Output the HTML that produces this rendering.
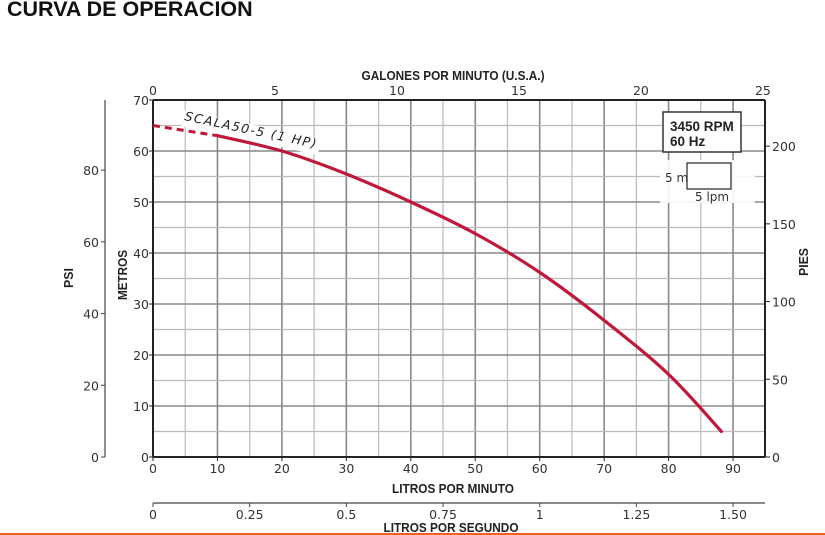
<!DOCTYPE html>
<html><head><meta charset="utf-8">
<style>
html,body{margin:0;padding:0;background:#fff;}
body{width:825px;height:535px;overflow:hidden;position:relative;font-family:"Liberation Sans",sans-serif;}
#title{position:absolute;left:7px;top:-3px;font-weight:bold;font-size:21.5px;color:#111;}
svg text{font-family:"DejaVu Sans","Liberation Sans",sans-serif;}
svg text.bt{font-family:"Liberation Sans",sans-serif;font-weight:bold;}
</style></head>
<body>
<div id="title">CURVA DE OPERACION</div>
<svg id="chart" width="825" height="535" style="position:absolute;left:0;top:0"></svg>
<script>
const lpmTicks=[0,10,20,30,40,50,60,70,80,90];
const meterTicks=[0,10,20,30,40,50,60,70];
const gpmTicks=[0,5,10,15,20,25];
const psiTicks=[0,20,40,60,80];
const feetTicks=[0,50,100,150,200];
const lpsTicks=[0,0.25,0.5,0.75,1,1.25,1.5];
const lpsLabels=["0","0.25","0.5","0.75","1","1.25","1.50"];
const dashedLpm=[0,10];
const dashedM=[65,63];
const curveLpm=[10,20,30,40,50,60,70,80,88.2];
const curveM=[63,60,55.5,50,43.8,36.2,26.8,16.2,5];

const X0=153,PX=6.445,Y0=457,PY=5.1;
const xL=v=>X0+v*PX;
const yM=v=>Y0-v*PY;
const xG=v=>xL(v*3.78541);
const yP=v=>yM(v*0.70307);
const yF=v=>yM(v*0.3048);
const xS=v=>xL(v*60);
const svg=document.getElementById('chart');
const NS='http://www.w3.org/2000/svg';
function mk(t,a,txt){const e=document.createElementNS(NS,t);for(const k in a)e.setAttribute(k,a[k]);if(txt!==undefined)e.textContent=txt;svg.appendChild(e);return e;}
const RIGHTX=765,TOPY=100;
for(let v=5;v<95;v+=5){const e=mk('line',{x1:xL(v),x2:xL(v),y1:TOPY,y2:Y0,stroke:v%10?'#bbb':'#888','stroke-width':v%10?1.2:1.6});

}
for(let v=5;v<70;v+=5){const e=mk('line',{x1:X0,x2:RIGHTX,y1:yM(v),y2:yM(v),stroke:v%10?'#bbb':'#888','stroke-width':v%10?1.2:1.6});

}
let f=mk('line',{x1:X0,x2:RIGHTX,y1:TOPY,y2:TOPY,stroke:'#222','stroke-width':2});


f=mk('line',{x1:X0,x2:RIGHTX,y1:Y0,y2:Y0,stroke:'#222','stroke-width':2});


f=mk('line',{x1:X0,x2:X0,y1:TOPY,y2:Y0,stroke:'#222','stroke-width':2});


f=mk('line',{x1:RIGHTX,x2:RIGHTX,y1:TOPY,y2:Y0,stroke:'#222','stroke-width':2});


const tc='#333',fs=12.5;
lpmTicks.forEach(v=>{const t=mk('text',{x:xL(v),y:Y0+16,'text-anchor':'middle','font-size':fs,fill:tc},v);


mk('line',{x1:xL(v),x2:xL(v),y1:Y0,y2:Y0+4,stroke:'#222'});});
meterTicks.forEach(v=>{const t=mk('text',{x:X0-4,y:yM(v)+5,'text-anchor':'end','font-size':fs,fill:tc},v);


mk('line',{x1:X0-4,x2:X0,y1:yM(v),y2:yM(v),stroke:'#222'});});
gpmTicks.forEach(v=>{const t=mk('text',{x:xG(v),y:TOPY-5,'text-anchor':'middle','font-size':fs,fill:tc},v);

});
f=mk('line',{x1:105,x2:105,y1:100,y2:Y0,stroke:'#444','stroke-width':1.2});


psiTicks.forEach(v=>{const t=mk('text',{x:99,y:yP(v)+5,'text-anchor':'end','font-size':fs,fill:tc},v);


mk('line',{x1:101,x2:105,y1:yP(v),y2:yP(v),stroke:'#444'});});
feetTicks.forEach(v=>{const t=mk('text',{x:RIGHTX+7,y:yF(v)+5,'font-size':fs,fill:tc},v);


mk('line',{x1:RIGHTX,x2:RIGHTX+5,y1:yF(v),y2:yF(v),stroke:'#222'});});
f=mk('line',{x1:X0,x2:RIGHTX,y1:503,y2:503,stroke:'#444','stroke-width':1.2});


lpsTicks.forEach((v,i)=>{const t=mk('text',{x:xS(v),y:519,'text-anchor':'middle','font-size':fs,fill:tc},lpsLabels[i]);


mk('line',{x1:xS(v),x2:xS(v),y1:503,y2:507,stroke:'#444'});});
const bt={'class':'bt','font-size':13,fill:'#222','text-anchor':'middle',lengthAdjust:'spacingAndGlyphs'};
let t=mk('text',Object.assign({x:453,y:80,textLength:183},bt),'GALONES POR MINUTO (U.S.A.)');


t=mk('text',Object.assign({x:453,y:493,textLength:122},bt),'LITROS POR MINUTO');


t=mk('text',Object.assign({x:451,y:532,textLength:135},bt),'LITROS POR SEGUNDO');


t=mk('text',Object.assign({x:0,y:0,textLength:20,transform:'translate(73,278) rotate(-90)'},bt),'PSI');


t=mk('text',Object.assign({x:0,y:0,textLength:50,transform:'translate(127,275) rotate(-90)'},bt),'METROS');


t=mk('text',Object.assign({x:0,y:0,textLength:28,transform:'translate(808,262) rotate(-90)'},bt),'PIES');


let r=mk('rect',{x:663,y:112,width:78,height:40,fill:'#fff',stroke:'#333','stroke-width':1.5});


t=mk('text',{x:670,y:131,'class':'bt','font-size':13.5,fill:'#222'},'3450 RPM');


t=mk('text',{x:670,y:146,'class':'bt','font-size':13.5,fill:'#222'},'60 Hz');


mk('rect',{x:660,y:160,width:95,height:43,fill:'#fff','fill-opacity':0.9});
r=mk('rect',{x:687,y:163,width:44,height:26,fill:'#fff',stroke:'#333','stroke-width':1.3});


t=mk('text',{x:665,y:182,'font-size':12,fill:'#333'},'5 m');


t=mk('text',{x:695,y:201,'font-size':12,fill:'#333'},'5 lpm');


mk('rect',{x:0,y:-11,width:140,height:16,fill:'#fff',transform:'translate(182,121) rotate(12)'});
t=mk('text',{x:0,y:0,'font-size':12.5,fill:'#222','font-style':'italic','letter-spacing':'1.5',transform:'translate(184,120) rotate(12)'},'SCALA50-5 (1 HP)');


let p=mk('path',{d:'M'+dashedLpm.map((v,i)=>xL(v)+','+yM(dashedM[i])).join(' L'),fill:'none',stroke:'#c0183a','stroke-width':3,'stroke-dasharray':'7,5'});


let pts=curveLpm.map((v,i)=>[xL(v),yM(curveM[i])]);
let d='M'+pts[0].join(',');
for(let i=0;i<pts.length-1;i++){const p0=pts[i-1]||pts[i],p1=pts[i],p2=pts[i+1],p3=pts[i+2]||p2;
d+=` C${p1[0]+(p2[0]-p0[0])/6},${p1[1]+(p2[1]-p0[1])/6} ${p2[0]-(p3[0]-p1[0])/6},${p2[1]-(p3[1]-p1[1])/6} ${p2[0]},${p2[1]}`;}
p=mk('path',{d:d,fill:'none',stroke:'#c0183a','stroke-width':3.2,'stroke-linecap':'round'});


f=mk('line',{x1:0,x2:825,y1:534,y2:534,stroke:'#e8622a','stroke-width':2});


</script>
</body></html>
